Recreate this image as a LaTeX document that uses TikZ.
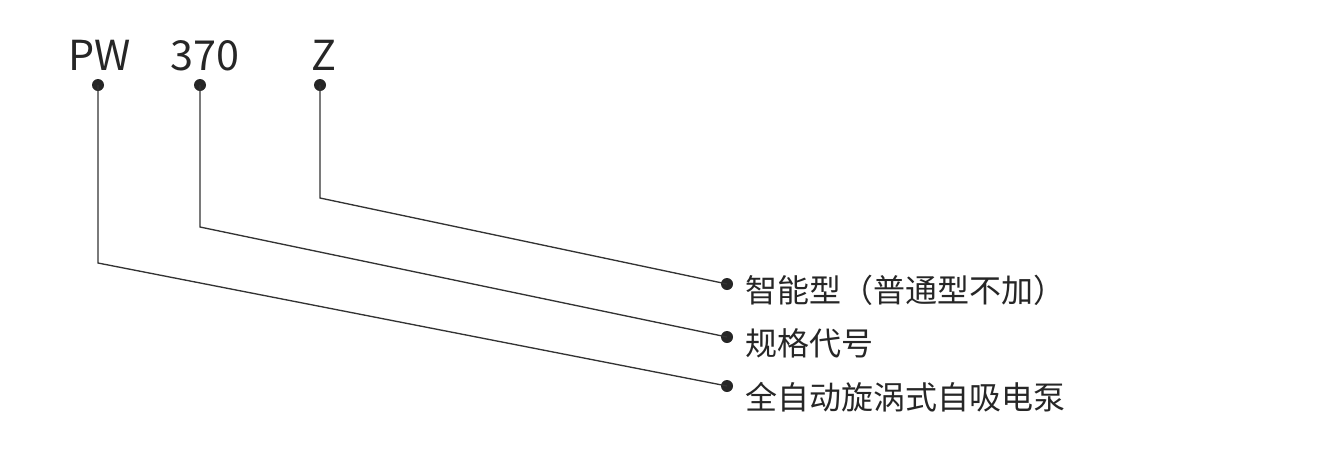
\documentclass[tikz,border=0pt]{standalone}
\usepackage{fontspec}
\setmainfont{Noto Sans CJK SC}
\begin{document}
\begin{tikzpicture}[x=0.75pt,y=-0.75pt,
  lbl/.style={inner sep=0pt,anchor=base west,font=\fontsize{31}{36}\selectfont,text=black!85},
  cn/.style={inner sep=0pt,anchor=west,font=\fontsize{24}{28}\selectfont,text=black!85},
  dot/.style={circle,fill=black!85,inner sep=0pt,minimum size=9pt},
  ln/.style={draw=black!80,line width=1pt}]
\useasboundingbox (0,0) rectangle (1330,451);
\node[lbl] (pw) at (68,70) {PW};
\node[lbl] (n) at (170,70) {370};
\node[lbl] (z) at (311,70) {Z};
\node[dot] (d1) at (98,85) {};
\node[dot] (d2) at (200,85) {};
\node[dot] (d3) at (320,85) {};
\node[dot] (e3) at (727,284) {};
\node[dot] (e2) at (727,337) {};
\node[dot] (e1) at (727,386) {};
\coordinate (c1) at (98,263);
\coordinate (c2) at (202,227);
\coordinate (c3) at (320,198);
\node[cn] (t3) at (745,290) {智能型（普通型不加）};
\node[cn] (t2) at (745,343) {规格代号};
\node[cn] (t1) at (745,397) {全自动旋涡式自吸电泵};
\draw[ln] (d1.center) -- (c1) -- (e1.center);
\draw[ln] (d2.center) -- (d2.center |- c2) -- (e2.center);
\draw[ln] (d3.center) -- (c3) -- (e3.center);
\end{tikzpicture}
\end{document}
